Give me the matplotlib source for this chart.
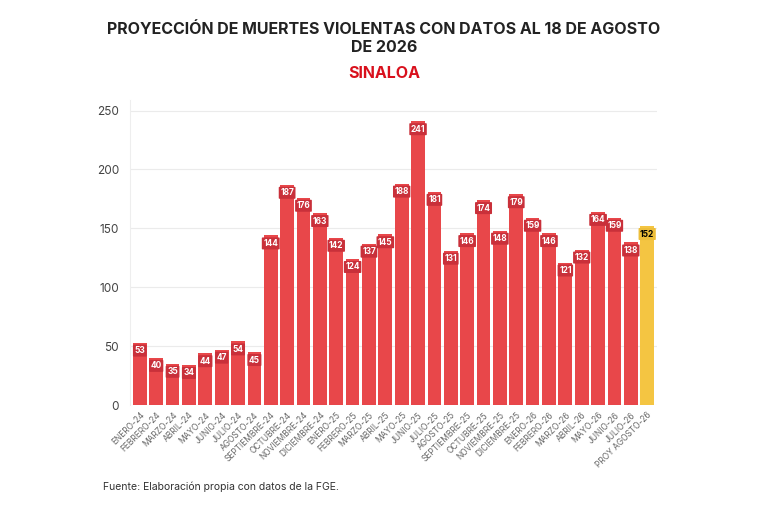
import matplotlib
matplotlib.use("Agg")
import matplotlib.pyplot as plt

plt.rcParams['font.family'] = ['Inter', 'DejaVu Sans']

months = ["ENERO-24", "FEBRERO-24", "MARZO-24", "ABRIL-24", "MAYO-24", "JUNIO-24",
          "JULIO-24", "AGOSTO-24", "SEPTIEMBRE-24", "OCTUBRE-24", "NOVIEMBRE-24",
          "DICIEMBRE-24", "ENERO-25", "FEBRERO-25", "MARZO-25", "ABRIL-25", "MAYO-25",
          "JUNIO-25", "JULIO-25", "AGOSTO-25", "SEPTIEMBRE-25", "OCTUBRE-25",
          "NOVIEMBRE-25", "DICIEMBRE-25", "ENERO-26", "FEBRERO-26", "MARZO-26",
          "ABRIL-26", "MAYO-26", "JUNIO-26", "JULIO-26", "PROY AGOSTO-26"]
values = [53, 40, 35, 34, 44, 47, 54, 45, 144, 187, 176, 163, 142, 124, 137, 145,
          188, 241, 181, 131, 146, 174, 148, 179, 159, 146, 121, 132, 164, 159, 138, 152]
projected = [False] * (len(values) - 1) + [True]
yticks = [0, 50, 100, 150, 200, 250]

RED = "#E8474A"
RED_BOX = "#C9303A"
YEL = "#F4C542"
YEL_BOX = "#EDBE3A"

fig = plt.figure(figsize=(7.68, 5.12), dpi=100)
ax = fig.add_axes([130/768, 1 - 405/512, (657-130)/768, (405-100)/512])

x = list(range(len(values)))
colors = [YEL if p else RED for p in projected]
bars = ax.bar(x, values, width=0.84, color=colors, zorder=3)

for xi, v, p in zip(x, values, projected):
    ax.annotate(str(v), (xi, v), xytext=(0, -8), textcoords='offset pixels',
                ha='center', va='center', fontsize=6, fontweight='bold',
                color='black' if p else 'white', zorder=4,
                bbox=dict(boxstyle='round,pad=0.18,rounding_size=0.1',
                          fc=YEL_BOX if p else RED_BOX, ec='none'))

ax.set_xlim(-0.6, len(values) - 0.4)
ax.set_ylim(0, 259)
ax.set_yticks(yticks)
ax.set_yticklabels([str(t) for t in yticks], fontsize=8.5, color="#444444")
ax.set_xticks(x)
ax.set_xticklabels(months, rotation=45, ha='right', rotation_mode='anchor',
                   fontsize=6, color="#666666")
ax.tick_params(axis='both', length=0, pad=4)
ax.tick_params(axis='y', pad=8)
ax.grid(axis='y', color="#EBEBEB", linewidth=0.8, zorder=0)
for s in ['top', 'right', 'bottom']:
    ax.spines[s].set_visible(False)
ax.spines['left'].set_color("#EEEEEE")
ax.spines['left'].set_linewidth(0.8)

fig.text(0.5, 1 - 30/512, "PROYECCIÓN DE MUERTES VIOLENTAS CON DATOS AL 18 DE AGOSTO",
         ha='center', va='center', fontsize=11.5, fontweight='bold', color="#222222")
fig.text(0.5, 1 - 47/512, "DE 2026", ha='center', va='center', fontsize=11.5,
         fontweight='bold', color="#222222")
fig.text(0.5, 1 - 73/512, "SINALOA", ha='center', va='center', fontsize=11.5,
         fontweight='bold', color="#D9101C")
fig.text(103/768, 1 - 487/512, "Fuente: Elaboración propia con datos de la FGE.",
         ha='left', va='center', fontsize=7.5, color="#333333")

fig.savefig("out.png", dpi=100, facecolor='white')
